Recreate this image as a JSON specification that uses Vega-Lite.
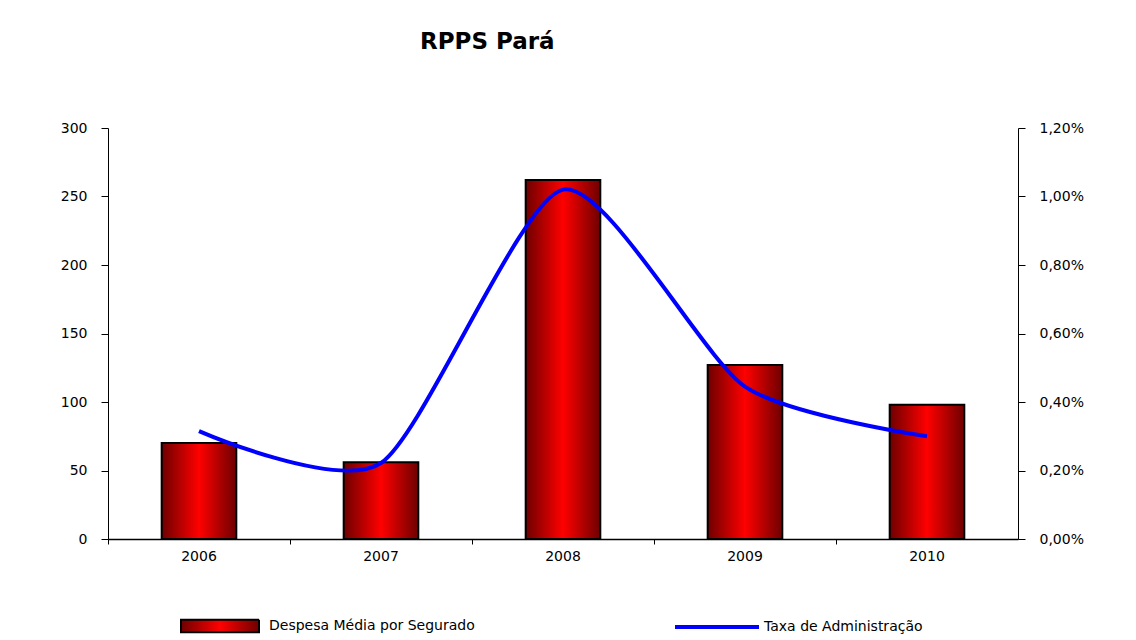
{
  "$schema": "https://vega.github.io/schema/vega-lite/v6.json",
  "width": 910,
  "height": 411,
  "autosize": {"type": "none"},
  "padding": {"left": 108, "top": 128, "right": 118, "bottom": 101},
  "background": "white",
  "config": {
    "font": "DejaVu Sans",
    "view": {"stroke": null},
    "axis": {"labelFont": "DejaVu Sans", "labelFontSize": 14, "labelColor": "black", "domainColor": "black", "tickColor": "black", "grid": false, "title": null}
  },
  "title": {
    "text": "RPPS Pará",
    "anchor": "start",
    "frame": "group",
    "dx": 312,
    "offset": 67,
    "fontSize": 23,
    "fontWeight": "bold",
    "font": "DejaVu Sans",
    "color": "black"
  },
  "data": {
    "values": [
      {"ano": "2006", "despesa": 70, "taxa": 0.00315, "s1": "Despesa Média por Segurado", "s2": "Taxa de Administração"},
      {"ano": "2007", "despesa": 56, "taxa": 0.00222, "s1": "Despesa Média por Segurado", "s2": "Taxa de Administração"},
      {"ano": "2008", "despesa": 262, "taxa": 0.0102, "s1": "Despesa Média por Segurado", "s2": "Taxa de Administração"},
      {"ano": "2009", "despesa": 127, "taxa": 0.00445, "s1": "Despesa Média por Segurado", "s2": "Taxa de Administração"},
      {"ano": "2010", "despesa": 98, "taxa": 0.003, "s1": "Despesa Média por Segurado", "s2": "Taxa de Administração"}
    ]
  },
  "layer": [
    {
      "mark": {"type": "bar", "width": {"band": 0.41}, "stroke": "black", "strokeWidth": 2,
               "fill": {"gradient": "linear", "x1": 0, "y1": 0, "x2": 1, "y2": 0, "stops": [{"offset": 0, "color": "#6e0000"}, {"offset": 0.5, "color": "#ff0000"}, {"offset": 1, "color": "#6e0000"}]}},
      "encoding": {
        "x": {"field": "ano", "type": "nominal", "scale": {"paddingInner": 0, "paddingOuter": 0},
              "axis": {"orient": "bottom", "labelAngle": 0, "ticks": false, "labelPadding": 10, "domainWidth": 1.5}},
        "y": {"field": "despesa", "type": "quantitative", "scale": {"domain": [0, 300], "nice": false},
              "axis": {"orient": "left", "values": [0, 50, 100, 150, 200, 250, 300], "tickSize": 7, "labelPadding": 14, "domainWidth": 1}},
        "strokeDash": {"field": "s1", "type": "nominal", "scale": {"range": [[1, 0]]},
                 "legend": {"orient": "none", "legendX": 72, "legendY": 458, "title": null, "padding": 0, "labelLimit": 500,
                            "symbolType": "M-1,-0.16H1V0.16H-1Z", "symbolSize": 6084, "symbolStrokeColor": "black", "symbolStrokeWidth": 2,
                            "labelFont": "DejaVu Sans", "labelFontSize": 14, "labelColor": "black", "labelOffset": 9,
                            "encoding": {"symbols": {"stroke": {"value": "black"}, "strokeWidth": {"value": 2}, "strokeOpacity": {"value": 1}}}}}
      }
    },
    {
      "mark": {"type": "line", "interpolate": "cardinal", "tension": 0.3, "strokeWidth": 4, "color": "#0000ff"},
      "encoding": {
        "x": {"field": "ano", "type": "nominal", "scale": {"paddingInner": 0, "paddingOuter": 0},
              "axis": {"orient": "bottom", "labels": false, "domain": false, "ticks": true, "bandPosition": 0, "tickSize": 5}},
        "y": {"field": "taxa", "type": "quantitative", "scale": {"domain": [0, 0.012], "nice": false},
              "axis": {"orient": "right", "values": [0, 0.002, 0.004, 0.006, 0.008, 0.01, 0.012], "tickSize": 7, "labelPadding": 14,
                       "labelExpr": "replace(format(datum.value, '.2%'), '.', ',')"}},
        "stroke": {"field": "s2", "type": "nominal", "scale": {"range": ["#0000ff"]},
                   "legend": {"orient": "none", "legendX": 565, "legendY": 455, "title": null, "padding": 0, "labelLimit": 500,
                              "symbolType": "M-1,0H1", "symbolSize": 7056, "symbolStrokeWidth": 4,
                              "labelFont": "DejaVu Sans", "labelFontSize": 14, "labelColor": "black", "labelOffset": 3}}
      }
    }
  ],
  "resolve": {"scale": {"y": "independent", "stroke": "independent", "strokeDash": "independent"}, "axis": {"x": "independent", "y": "independent"}}
}
